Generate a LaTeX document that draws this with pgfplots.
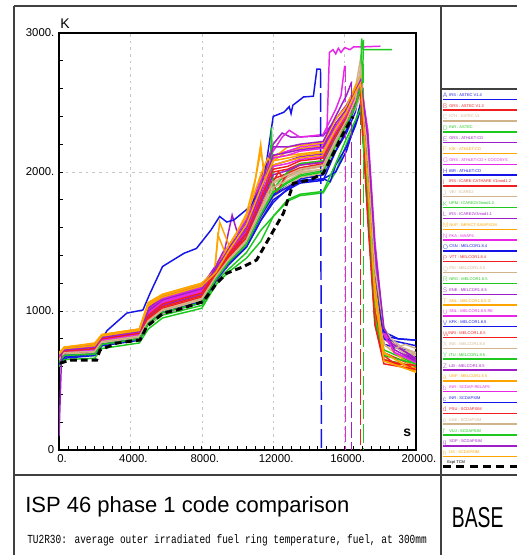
\documentclass[border=0pt]{standalone}
\usepackage{pgfplots}
\pgfplotsset{compat=1.18}
\usepackage{fontspec}
\setmainfont{Liberation Sans}
\newfontfamily\monofont{Liberation Mono}
\definecolor{cB}{RGB}{20,20,230}
\definecolor{cR}{RGB}{240,30,30}
\definecolor{cT}{RGB}{210,180,140}
\definecolor{cG}{RGB}{30,200,30}
\definecolor{cP}{RGB}{160,30,200}
\definecolor{cO}{RGB}{255,165,0}
\definecolor{cM}{RGB}{230,40,230}
\begin{document}
\begin{tikzpicture}
\useasboundingbox (0pt,0pt) rectangle (387pt,416.25pt);
\begin{scope}[x=0.75pt,y=-0.75pt,shift={(0pt,416.25pt)}]
\draw[line width=1.1pt, black!75] (14,6) -- (530,6);
\draw[line width=1.1pt, black!75] (14,6) -- (14,560);
\draw[line width=1.1pt, black!75] (441,6) -- (441,560);
\draw[line width=1.1pt, black!75] (14,475) -- (530,475);
\draw[line width=1.1pt, black!75] (441,89) -- (530,89);
\end{scope}
\begin{axis}[
  at={(44.25pt,78.75pt)}, anchor=south west, scale only axis,
  width=267.75pt, height=312.75pt,
  xmin=0, xmax=20000, ymin=0, ymax=3000,
  scaled x ticks=false, scaled y ticks=false,
  xtick={0,4000,8000,12000,16000,20000},
  xticklabels={0.,4000.,8000.,12000.,16000.,20000.},
  ytick={0,1000,2000,3000},
  yticklabels={0,1000.,2000.,3000.},
  minor x tick num=7, minor y tick num=4,
  tick align=inside, tick pos=left,
  major tick length=3pt, minor tick length=3pt,
  xmajorgrids, ymajorgrids,
  grid style={dash pattern=on 2pt off 3pt, gray!45, line width=0.4pt},
  axis line style={line width=0.9pt},
  tick style={line width=0.5pt, black},
  ticklabel style={font=\fontsize{8.5}{9}\selectfont},
  xticklabel style={xshift=2.25pt},
  every axis plot/.append style={line width=1.1pt},
  clip=true,
]
% s1 blue
\addplot[cB] coordinates {(0,640)(300,690)(2000,700)(2400,770)(4500,810)(5000,930)(5800,1000)(8000,1080)(8800,1240)(9500,1350)(10500,1480)(11300,1680)(12000,1840)(12800,1900)(13500,1950)(14800,1980)(15500,2150)(16100,2280)(16600,2430)(16900,2620)(17300,2000)(17700,1200)(18200,820)(19000,800)(20000,790)};
% s2 red
\addplot[cR] coordinates {(0,660)(300,700)(2000,720)(2400,790)(4500,830)(5000,950)(5800,1040)(8000,1120)(8800,1280)(9500,1400)(10500,1560)(11300,1800)(12000,2000)(12800,2020)(13500,2060)(14800,2080)(15500,2250)(16100,2380)(16600,2520)(16900,2580)(17300,1800)(17700,1000)(18200,700)(20000,600)};
% s3 tan
\addplot[cT] coordinates {(0,650)(300,690)(2000,700)(2400,760)(4500,800)(5000,910)(5800,990)(8000,1070)(8800,1230)(9500,1350)(10500,1490)(11300,1700)(12000,1880)(12800,1960)(13500,2000)(14800,2020)(15500,2200)(16100,2380)(16600,2600)(16900,2820)(17300,2100)(17700,1200)(18200,760)(18800,740)(19500,700)(20000,690)};
% s4 green
\addplot[cG] coordinates {(0,620)(300,670)(2000,680)(2400,750)(4500,790)(5000,900)(5800,970)(8000,1040)(8800,1210)(9500,1300)(10500,1420)(11300,1580)(12000,1680)(12800,1790)(13500,1830)(14800,1850)(15500,2000)(16100,2200)(16600,2350)(16900,2480)(17300,1700)(17700,900)(18200,650)(20000,600)};
% s5 purple
\addplot[cP] coordinates {(0,680)(300,730)(2000,760)(2400,820)(4500,860)(5000,1040)(5800,1100)(8000,1180)(8800,1330)(9300,1450)(9700,1690)(10000,1560)(10500,1650)(11300,1950)(12000,2200)(12500,2280)(13000,2250)(14800,2260)(15500,2380)(16100,2480)(16600,2600)(16900,2700)(17300,2200)(17700,1400)(18200,800)(20000,640)};
% s6 orange
\addplot[cO] coordinates {(0,700)(300,740)(2000,760)(2400,830)(4500,870)(5000,1060)(5800,1120)(8000,1200)(8700,1270)(9000,1640)(9500,1480)(10000,1450)(10500,1600)(11300,2150)(11600,1950)(12000,2080)(12800,2150)(13500,2170)(14800,2190)(15500,2350)(16100,2450)(16600,2600)(16900,2680)(17300,2000)(17700,1200)(18200,700)(20000,570)};
% s7 magenta
\addplot[cM] coordinates {(0,670)(300,720)(2000,740)(2400,810)(4500,850)(5000,1000)(5800,1080)(8000,1160)(8800,1310)(9500,1450)(10500,1620)(11300,1880)(12000,2120)(12800,2150)(13500,2180)(14800,2200)(15000,2250)(15150,2860)(15350,2880)(15500,2850)(15650,2890)(15800,2860)(16000,2895)(16300,2880)(16500,2900)(17000,2900)(18000,2905)};
% s8 blue
\addplot[cB] coordinates {(0,610)(300,660)(2000,680)(2400,750)(4500,790)(5000,910)(5800,980)(8000,1060)(8800,1220)(9500,1330)(10500,1460)(11300,1650)(12000,1780)(12800,1880)(13500,1930)(14800,1950)(15500,2000)(16100,2150)(16600,2350)(16900,2500)(17300,1900)(17700,1100)(18200,760)(20000,700)};
% s9 red
\addplot[cR] coordinates {(0,650)(300,700)(2000,710)(2400,780)(4500,820)(5000,940)(5800,1020)(8000,1100)(8800,1270)(9500,1390)(10500,1540)(11300,1780)(12000,1950)(12800,1990)(13500,2030)(14800,2060)(15500,2250)(16100,2380)(16600,2500)(16880,2600)};
\addplot[cR, dash pattern=on 12pt off 3pt] coordinates {(16880,2600)(16880,0)};
% s10 tan
\addplot[cT] coordinates {(0,640)(300,690)(2000,700)(2400,760)(4500,800)(5000,920)(5800,1000)(8000,1080)(8800,1250)(9500,1370)(10500,1500)(11300,1730)(12000,1920)(12800,1970)(13500,2010)(14800,2040)(15500,2200)(16100,2330)(16600,2450)(16900,2550)(17300,1900)(17700,1150)(18200,800)(18700,760)(19300,700)(20000,680)};
% s11 green plateau
\addplot[cG] coordinates {(0,630)(300,680)(2000,690)(2400,760)(4500,800)(5000,920)(5800,990)(8000,1070)(8800,1230)(9500,1350)(10500,1490)(11300,1700)(12000,1860)(12800,1930)(13500,1980)(14800,2010)(15500,2200)(16100,2360)(16600,2500)(16900,2650)(16950,2960)(17050,2880)(18650,2880)};
% s12 purple
\addplot[cP] coordinates {(0,660)(300,710)(2000,730)(2400,800)(4500,840)(5000,980)(5800,1060)(8000,1140)(8800,1300)(9500,1430)(10500,1580)(11300,1830)(12000,2050)(12800,2080)(13500,2110)(14800,2130)(15500,2300)(16100,2420)(16600,2550)(16900,2620)(17300,2100)(17700,1300)(18200,820)(20000,650)};
% s13 orange
\addplot[cO] coordinates {(0,690)(300,730)(2000,750)(2400,820)(4500,860)(5000,1030)(5800,1100)(8000,1180)(8700,1250)(8900,1550)(9300,1420)(9800,1380)(10500,1550)(11300,1950)(12000,2100)(12800,2120)(13500,2130)(14800,2150)(15500,2320)(16100,2440)(16600,2580)(16900,2650)(17300,1900)(17700,1000)(18200,650)(20000,560)};
% s14 magenta
\addplot[cM] coordinates {(0,680)(300,720)(2000,740)(2400,810)(4500,850)(5000,1010)(5800,1090)(8000,1170)(8800,1320)(9500,1470)(10500,1660)(11300,1930)(12000,2150)(12500,2250)(12900,2300)(13500,2250)(14800,2270)(15500,2450)(15800,2550)(16000,2760)(16050,2760)};
\addplot[cM, dash pattern=on 12pt off 3pt] coordinates {(16050,2760)(16050,0)};
% s15 blue outlier
\addplot[cB] coordinates {(0,650)(300,700)(2000,720)(2400,800)(2700,860)(3800,985)(4700,1007)(5100,1127)(5800,1320)(7000,1415)(7700,1450)(8500,1580)(9000,1680)(9400,1640)(9800,1655)(10700,1750)(11450,1920)(12000,2400)(12600,2430)(12900,2470)(13000,2420)(13100,2480)(13700,2540)(14250,2545)(14450,2740)(14650,2740)};
\addplot[cB, dash pattern=on 14pt off 4pt] coordinates {(14650,2740)(14700,0)};
% s16 red
\addplot[cR] coordinates {(0,640)(300,690)(2000,700)(2400,770)(4500,810)(5000,930)(5800,1010)(8000,1090)(8800,1260)(9500,1380)(10500,1520)(11300,1760)(11800,2000)(12200,1850)(12800,2000)(13500,2050)(14800,2070)(15500,2260)(16100,2400)(16600,2550)(16900,2600)(17300,1700)(17700,950)(18200,650)(20000,590)};
% s17 tan
\addplot[cT] coordinates {(0,630)(300,680)(2000,690)(2400,760)(4500,800)(5000,900)(5800,980)(8000,1060)(8800,1220)(9500,1340)(10500,1470)(11300,1670)(12000,1820)(12800,1900)(13500,1960)(14800,1990)(15500,2180)(16100,2320)(16600,2460)(16900,2700)(17300,2050)(17700,1250)(18200,850)(18600,780)(19200,720)(20000,700)};
% s18 green
\addplot[cG] coordinates {(0,640)(300,690)(2000,700)(2400,770)(4500,810)(5000,910)(5800,990)(8000,1070)(8800,1240)(9500,1360)(10500,1500)(11300,1720)(11800,1800)(11900,2320)(12000,1880)(12800,2000)(13500,2060)(14800,2080)(15500,2270)(16100,2400)(16600,2530)(16900,2620)(17300,2000)(17700,1150)(18200,720)(20000,620)};
% s19 purple
\addplot[cP] coordinates {(0,650)(300,700)(2000,720)(2400,790)(4500,830)(5000,960)(5800,1040)(8000,1120)(8800,1290)(9500,1410)(10500,1550)(11300,1780)(12000,1980)(12800,2010)(13500,2050)(14800,2070)(15500,2240)(16100,2370)(16600,2500)(16900,2560)(17300,2000)(17700,1250)(18200,800)(20000,660)};
% s20 orange
\addplot[cO] coordinates {(0,690)(300,740)(2000,760)(2400,830)(4500,870)(5000,1050)(5800,1110)(8000,1190)(8800,1290)(9500,1450)(10500,1700)(11000,1950)(11300,2200)(11500,1950)(12000,2100)(12800,2180)(13500,2190)(14800,2210)(15500,2380)(16100,2470)(16600,2620)(16900,2700)(17300,2150)(17700,1350)(18200,760)(20000,580)};
% s21 magenta
\addplot[cM] coordinates {(0,670)(300,710)(2000,730)(2400,800)(4500,840)(5000,990)(5800,1070)(8000,1150)(8800,1300)(9500,1440)(10500,1600)(11300,1860)(12000,2100)(12800,2120)(13500,2150)(14800,2170)(15500,2330)(16100,2430)(16600,2570)(16900,2650)(17300,2300)(17700,1500)(18200,850)(18800,700)(20000,640)};
% s22 blue
\addplot[cB] coordinates {(0,620)(300,670)(2000,690)(2400,760)(4500,800)(5000,920)(5800,990)(8000,1070)(8800,1230)(9500,1350)(10500,1480)(11300,1680)(12000,1830)(12800,1890)(13500,1940)(14800,1950)(15200,1930)(15500,2050)(16100,2180)(16600,2330)(16900,2450)(17300,1950)(17700,1200)(18200,800)(20000,750)};
% s23 red
\addplot[cR] coordinates {(0,650)(300,700)(2000,710)(2400,780)(4500,820)(5000,950)(5800,1030)(8000,1110)(8800,1270)(9500,1390)(10500,1530)(11300,1750)(12000,1930)(12300,2000)(12600,1950)(12800,1980)(13500,2020)(14800,2050)(15500,2230)(16100,2360)(16600,2500)(16900,2560)(17300,1750)(17700,1000)(18200,680)(18800,620)(20000,610)};
% s24 tan
\addplot[cT] coordinates {(0,640)(300,690)(2000,700)(2400,770)(4500,810)(5000,920)(5800,1000)(8000,1080)(8800,1240)(9500,1360)(10500,1500)(11300,1710)(12000,1890)(12800,1940)(13500,1990)(14800,2020)(15500,2210)(16100,2340)(16600,2480)(16900,2560)(17300,1850)(17700,1100)(18200,760)(18600,720)(19400,760)(20000,730)};
% s25 green
\addplot[cG] coordinates {(0,600)(300,650)(2000,660)(2400,730)(4500,770)(5000,870)(5800,950)(8000,1020)(8800,1190)(9500,1280)(10500,1380)(11300,1500)(12000,1680)(12800,1800)(13500,1840)(14800,1860)(15500,2060)(16100,2240)(16600,2370)(16900,2460)(17300,1800)(17700,950)(18200,680)(20000,620)};
% s26 purple
\addplot[cP] coordinates {(0,680)(300,730)(2000,750)(2400,820)(4500,860)(5000,1020)(5800,1100)(8000,1180)(8800,1320)(9500,1450)(10500,1630)(11300,1900)(12000,2180)(12800,2180)(13500,2200)(14800,2220)(15500,2400)(16100,2550)(16400,2650)};
\addplot[cP, dash pattern=on 12pt off 3pt] coordinates {(16400,2650)(16400,0)};
% s27 orange
\addplot[cO] coordinates {(0,700)(300,740)(2000,770)(2400,830)(4500,870)(5000,1060)(5800,1120)(8000,1200)(8800,1300)(9500,1470)(10500,1680)(11300,1980)(11700,2100)(12000,2050)(12800,2080)(13500,2100)(14800,2120)(15500,2300)(16100,2430)(16600,2560)(16900,2640)(17300,2050)(17700,1200)(18200,700)(20000,560)};
% s28 magenta
\addplot[cM] coordinates {(0,660)(300,700)(2000,720)(2400,790)(4500,830)(5000,980)(5800,1060)(8000,1140)(8800,1300)(9500,1420)(10500,1570)(11300,1820)(12000,2040)(12800,2060)(13500,2090)(14800,2110)(15500,2290)(16100,2410)(16600,2540)(16900,2640)(17300,2200)(17700,1400)(18200,830)(18800,700)(20000,630)};
% s29 blue
\addplot[cB] coordinates {(0,630)(300,680)(2000,690)(2400,760)(4500,800)(5000,910)(5800,990)(8000,1060)(8800,1220)(9500,1340)(10500,1460)(11300,1650)(12000,1800)(12800,1870)(13500,1920)(14800,1940)(15500,2150)(16100,2300)(16600,2480)(16900,2600)(17300,2050)(17700,1300)(18200,850)(19000,800)(20000,790)};
% s30 red
\addplot[cR] coordinates {(0,660)(300,710)(2000,730)(2400,800)(4500,840)(5000,970)(5800,1050)(8000,1130)(8800,1290)(9500,1410)(10500,1560)(11300,1810)(12000,2020)(12800,2040)(13500,2080)(14800,2100)(15500,2270)(16100,2390)(16600,2510)(16900,2570)(17300,1650)(17700,900)(18200,620)(20000,580)};
% s31 tan
\addplot[cT] coordinates {(0,650)(300,700)(2000,710)(2400,780)(4500,820)(5000,930)(5800,1010)(8000,1090)(8800,1250)(9500,1370)(10500,1510)(11300,1740)(12000,1930)(12800,1980)(13500,2020)(14800,2050)(15500,2230)(16100,2370)(16600,2520)(16900,2760)(17300,2100)(17700,1300)(18200,880)(18600,800)(19200,740)(20000,700)};
% s32 green
\addplot[cG] coordinates {(0,630)(300,680)(2000,690)(2400,760)(4500,800)(5000,910)(5800,990)(8000,1060)(8800,1230)(9500,1350)(10500,1480)(11300,1690)(12000,1850)(12800,1920)(13500,1970)(14800,2000)(15500,2190)(16100,2340)(16600,2470)(17000,2650)(17060,2950)};
\addplot[cG, dash pattern=on 14pt off 4pt] coordinates {(17060,2950)(17060,0)};
% s33 purple
\addplot[cP] coordinates {(0,100)(150,700)(300,720)(2000,740)(2400,810)(4500,850)(5000,1000)(5800,1080)(8000,1160)(8800,1310)(9500,1440)(10500,1600)(11300,1860)(12000,2120)(12800,2140)(13500,2160)(14800,2180)(15500,2350)(16100,2450)(16600,2580)(16900,2660)(17300,2250)(17700,1450)(18200,880)(18800,720)(20000,640)};
% s34 orange
\addplot[cO] coordinates {(0,690)(300,730)(2000,750)(2400,820)(4500,860)(5000,1040)(5800,1100)(8000,1180)(8800,1280)(9500,1430)(10500,1620)(11300,1880)(12000,2080)(12800,2100)(13500,2120)(14800,2140)(15500,2310)(16100,2430)(16600,2570)(16900,2640)(17300,1950)(17700,1100)(18200,640)(20000,560)};
% experiment
\addplot[black, line width=2.2pt, dash pattern=on 5pt off 3pt] coordinates {(56,624)(616,647)(2110,647)(2297,719)(3230,769)(4540,791)(4910,887)(5840,985)(6590,1007)(8070,1067)(8830,1199)(9390,1271)(10330,1319)(11070,1367)(11820,1535)(12570,1703)(13130,1919)(14060,1943)(14810,1991)(15190,2087)(15930,2279)(16470,2399)};
\end{axis}
\begin{scope}[x=0.75pt,y=-0.75pt,shift={(0pt,416.25pt)}]
\node[anchor=base west, inner sep=0, font=\fontsize{10.5}{11}\selectfont] at (60,28.3) {K};
\node[anchor=base west, inner sep=0, font=\fontsize{10.5}{11}\selectfont\bfseries] at (403,437) {s};
\foreach \i/\col/\txt/\lt in {
 1/cB/IRS : ASTEC V1.4/A, 2/cR/GRS : ASTEC V1.3/B, 3/cT/KTH : ASTEC V1/C, 4/cG/INR : ASTEC/D,
 5/cP/GRS : ATHLET-CD/E, 6/cO/KIK : ATHLET-CD/F, 7/cM/GRS : ATHLET-CD + COCOSYS/G, 8/cB/IBR : ATHLET-CD/H,
 9/cR/IRS : ICARE-CATHARE V1mod1.2/I, 10/cT/VEI : ICARE2/J, 11/cG/UPM : ICARE2V3mod1.2/K, 12/cP/IRS : ICARE2V3mod1.1/L,
 13/cO/NUP : IMPACT-SAMPSON/M, 14/cM/FKA : MAAP4/N, 15/cB/CSN : MELCOR1.8.4/O, 16/cR/VTT : MELCOR1.8.4/P,
 17/cT/PSI : MELCOR1.8.5/Q, 18/cG/NRG : MELCOR1.8.5/R, 19/cP/ENE : MELCOR1.8.5/S, 20/cO/SNL : MELCOR1.8.5 IZ/T,
 21/cM/SNL : MELCOR1.8.5 RE/U, 22/cB/KFK : MELCOR1.8.5/V, 23/cR/NRI : MELCOR1.8.5/W, 24/cT/INE : MELCOR1.8.5/X,
 25/cG/ITU : MELCOR1.8.5/Y, 26/cP/LEI : MELCOR1.8.5/Z, 27/cO/UNP : MELCOR1.8.5/a, 28/cM/INR : SCDAP-RELAP5/b,
 29/cB/INR : SCDAPSIM/c, 30/cR/PSU : SCDAPSIM/d, 31/cT/KAE : SCDAPSIM/e, 32/cG/VUJ : SCDAPSIM/f,
 33/cP/SOP : SCDAPSIM/g, 34/cO/IJS : SCDAPSIM/h} {
  \pgfmathsetmacro{\yy}{99.3+(\i-1)*10.83}
  \draw[\col, line width=1.1pt] (443,\yy) -- (530,\yy);
  \node[anchor=base west, inner sep=0, text=\col, font=\fontsize{3}{3}\selectfont] at (449,\yy-3) {\txt};
  \node[anchor=base west, inner sep=0, text=\col!60, font=\fontsize{5}{5}\selectfont] at (442.5,\yy-1.5) {\lt};
}
\draw[black, line width=2.2pt, dash pattern=on 6pt off 4pt] (443,466.7) -- (530,466.7);
\node[anchor=base west, inner sep=0, font=\fontsize{3}{3}\selectfont] at (447,463.5) {Expt TCM};
\node[anchor=base west, inner sep=0, font=\fontsize{16.5}{17}\selectfont] at (25,513) {ISP 46 phase 1 code comparison};
\node[anchor=base west, inner sep=0] at (27,543.3) {\scalebox{1}[1.3]{\monofont\fontsize{7.1}{8}\selectfont TU2R30: average outer irradiated fuel ring temperature, fuel,  at 300mm}};
\node[anchor=base west, inner sep=0] at (451.7,527.3) {\scalebox{0.67}[1]{\fontsize{21.6}{22}\selectfont BASE}};
\end{scope}
\end{tikzpicture}
\end{document}
